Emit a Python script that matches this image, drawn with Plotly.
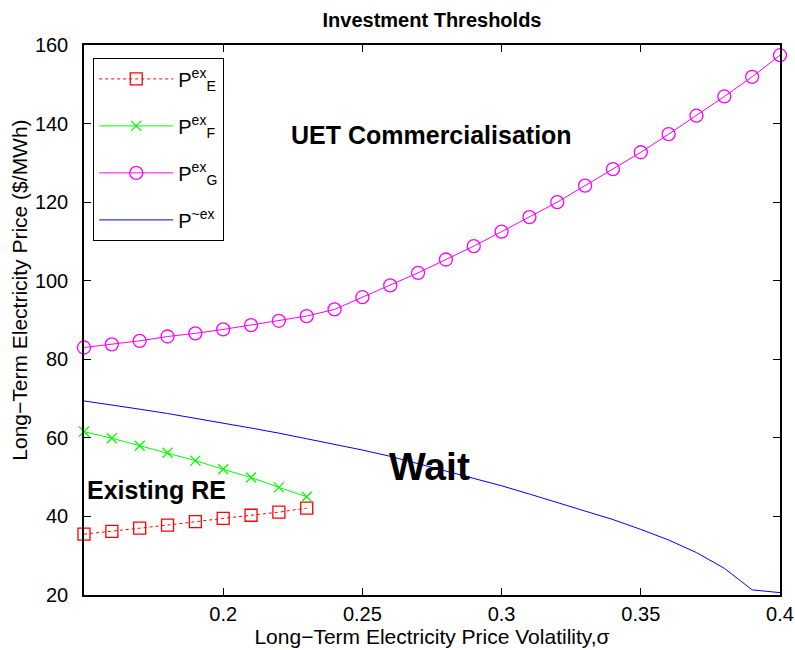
import plotly.graph_objects as go

sigma_E = [0.15, 0.16, 0.17, 0.18, 0.19, 0.20, 0.21, 0.22, 0.23]
P_E = [35.5, 36.2, 37.0, 37.8, 38.7, 39.5, 40.3, 41.1, 42.1]
P_F = [61.6, 59.9, 58.0, 56.2, 54.2, 52.0, 49.9, 47.4, 45.0]

sigma_G = [0.15, 0.16, 0.17, 0.18, 0.19, 0.20, 0.21, 0.22, 0.23, 0.24, 0.25, 0.26, 0.27,
           0.28, 0.29, 0.30, 0.31, 0.32, 0.33, 0.34, 0.35, 0.36, 0.37, 0.38, 0.39, 0.40]
P_G = [83.0, 83.8, 84.7, 85.8, 86.6, 87.6, 88.7, 89.8, 91.0, 92.7, 95.8, 98.8, 102.0,
       105.4, 108.8, 112.5, 116.2, 120.0, 124.2, 128.4, 132.7, 137.3, 142.0, 146.9, 151.9, 157.4]
P_T = [69.4, 68.4, 67.3, 66.2, 65.0, 63.8, 62.5, 61.2, 59.8, 58.4, 56.9, 55.3, 53.4,
       51.6, 49.7, 47.8, 45.7, 43.6, 41.4, 39.2, 36.7, 34.0, 30.8, 26.8, 21.3, 20.6]

x_ticks = [0.2, 0.25, 0.3, 0.35, 0.4]
x_tick_labels = ["0.2", "0.25", "0.3", "0.35", "0.4"]
y_ticks = [20, 40, 60, 80, 100, 120, 140, 160]

FONT = "Liberation Sans, Arial, sans-serif"

fig = go.Figure()
fig.add_trace(go.Scatter(
    x=sigma_E, y=P_E, mode="lines+markers", name="P<sup>ex</sup><sub>E</sub>", legendgroup="E",
    line=dict(color="rgb(255,0,0)", width=1, dash="dot"),
    marker=dict(symbol="square-open", size=12, color="rgb(255,0,0)", line=dict(width=1.3)),
    cliponaxis=False))
fig.add_trace(go.Scatter(
    x=sigma_E, y=P_F, mode="lines+markers", name="P<sup>ex</sup><sub>F</sub>", legendgroup="F",
    line=dict(color="rgb(0,255,0)", width=1),
    marker=dict(symbol="x-thin-open", size=10, color="rgb(0,255,0)", line=dict(width=1.3, color="rgb(0,255,0)")),
    cliponaxis=False))
fig.add_trace(go.Scatter(
    x=sigma_G, y=P_G, mode="lines+markers", name="P<sup>ex</sup><sub>G</sub>", legendgroup="G",
    line=dict(color="rgb(255,0,255)", width=1),
    marker=dict(symbol="circle-open", size=13, color="rgb(255,0,255)", line=dict(width=1.3)),
    cliponaxis=False))
fig.add_trace(go.Scatter(
    x=sigma_G, y=P_T, mode="lines", name="P<sup>~ex</sup>", legendgroup="T",
    line=dict(color="rgb(0,0,255)", width=1)))

fig.add_annotation(x=0.2235, y=137.1, text="<b>UET Commercialisation</b>", showarrow=False,
                   font=dict(size=25, color="black", family=FONT), xanchor="left", yanchor="middle")
fig.add_annotation(x=0.1502, y=46.7, text="<b>Existing RE</b>", showarrow=False,
                   font=dict(size=25, color="black", family=FONT), xanchor="left", yanchor="middle")
fig.add_annotation(x=0.2588, y=52.6, text="<b>Wait</b>", showarrow=False,
                   font=dict(size=39, color="black", family=FONT), xanchor="left", yanchor="middle")
# y-axis title
fig.add_annotation(xref="paper", yref="paper", x=-0.092, y=0.555, textangle=-90,
                   text="Long\u2212Term Electricity Price ($/MWh)", showarrow=False,
                   font=dict(size=21, color="black", family=FONT), xanchor="center", yanchor="middle")

axis_common = dict(showline=True, linecolor="black", linewidth=1.5, mirror="ticks",
                   ticks="inside", ticklen=7, tickcolor="black", showgrid=False, zeroline=False,
                   automargin=False, tickfont=dict(size=20, color="black", family=FONT))

fig.update_layout(
    width=795, height=650,
    margin=dict(l=84, r=15, t=45, b=55),
    paper_bgcolor="white", plot_bgcolor="white",
    title=dict(text="<b>Investment Thresholds</b>", xref="paper", x=0.5, xanchor="center",
               y=0.969, yanchor="middle", font=dict(size=20, color="black", family=FONT)),
    xaxis=dict(range=[0.15, 0.4], tickvals=x_ticks, ticktext=x_tick_labels,
               title=dict(text="Long\u2212Term Electricity Price Volatility,\u03c3", standoff=0,
                          font=dict(size=21, color="black", family=FONT)), **axis_common),
    yaxis=dict(range=[20, 160], tickvals=y_ticks, ticklabelstandoff=10, **axis_common),
    legend=dict(x=0.013, y=0.976, xanchor="left", yanchor="top", bgcolor="white",
                bordercolor="black", borderwidth=1.2, font=dict(size=20, color="black", family=FONT),
                tracegroupgap=18, itemwidth=74),
    showlegend=True,
)

fig.write_html("out.html", config={"displayModeBar": False},
               post_script="document.body.style.margin='0px';document.body.style.overflow='hidden';")
